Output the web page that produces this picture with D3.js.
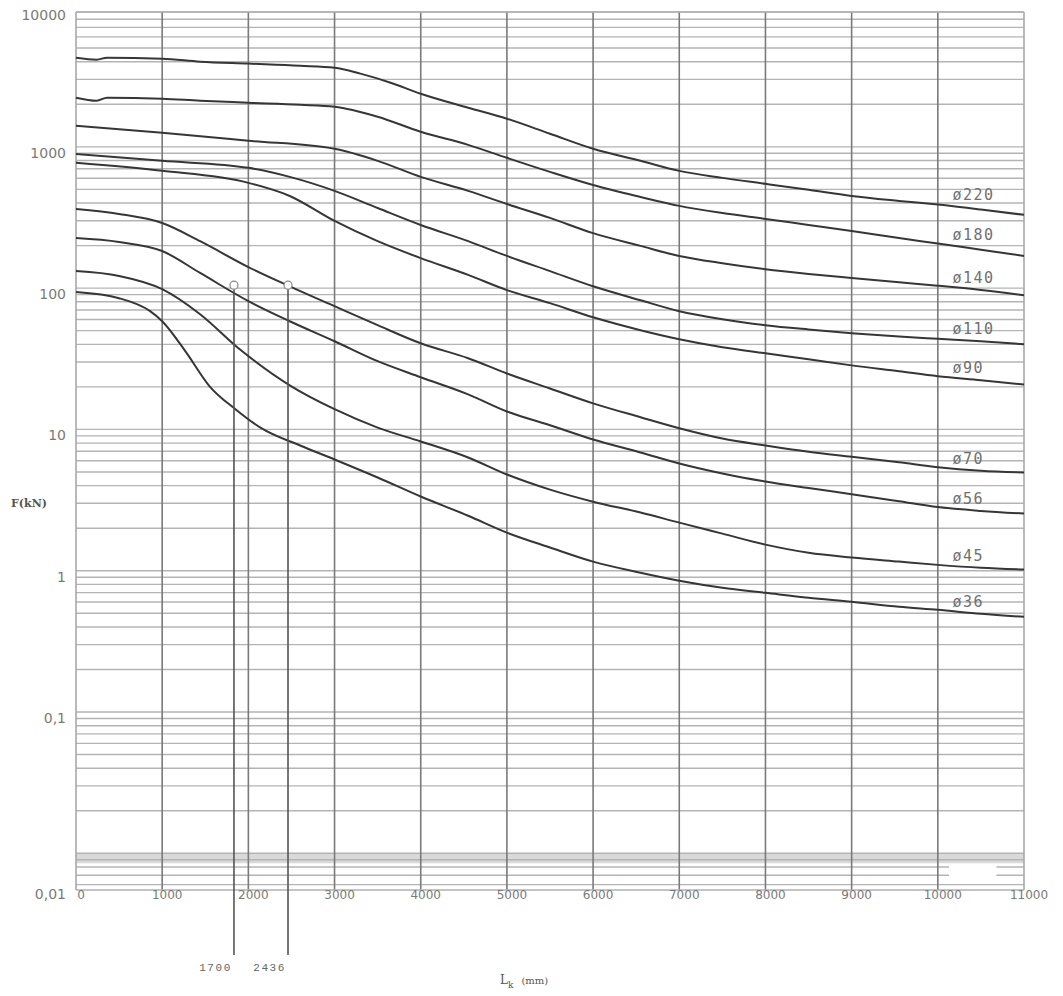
<!DOCTYPE html>
<html>
<head>
<meta charset="utf-8">
<script src="https://cdn.jsdelivr.net/npm/d3@7"></script>
<style>
  html, body { margin: 0; padding: 0; background: #fff; }
  svg { display: block; }
</style>
</head>
<body>
<script>
// ---------- data ----------
const xTicks = [0, 1000, 2000, 3000, 4000, 5000, 6000, 7000, 8000, 9000, 10000, 11000];
const yTickValues = [10000, 1000, 100, 10, 1, 0.1, 0.01];
const yTickLabels = ["10000", "1000", "100", "10", "1", "0,1", "0,01"];

const seriesNames = ["ø220", "ø180", "ø140", "ø110", "ø90", "ø70", "ø56", "ø45", "ø36"];

const s220 = [[0,4276],[240,4140],[360,4276],[1000,4207],[1440,4008],[2000,3882],[2600,3750],[3000,3631],[3300,3296],[3650,2844],[4000,2377],[4550,1892],[5000,1581],[5500,1237],[6000,968],[6550,796],[7000,676],[7500,603],[8000,547],[8500,496],[9000,449],[9550,414],[10000,390],[10500,360],[11000,330]];
const s180 = [[0,2228],[240,2120],[360,2228],[1000,2190],[1440,2120],[2000,2052],[2600,1986],[3000,1923],[3500,1634],[4000,1277],[4550,1033],[5000,836],[5500,665],[6000,537],[6550,442],[7000,382],[7500,340],[8000,309],[8500,280],[9000,254],[9550,226],[10000,207],[10500,187],[11000,169]];
const s140 = [[0,1409],[1000,1256],[2000,1104],[3000,968],[3500,796],[4000,613],[4550,488],[5000,394],[5500,314],[6000,245],[6550,199],[7000,169],[7500,150],[8000,136],[8500,126],[9000,118],[9550,110],[10000,104],[10500,97],[11000,89]];
const s110 = [[0,891],[1000,796],[2000,710],[2480,613],[3000,488],[3500,369],[4000,280],[4550,215],[5000,169],[5500,132],[6000,103],[6550,82],[7000,68.7],[7500,60.3],[8000,54.7],[8500,51.0],[9000,48.0],[9550,45.5],[10000,43.8],[10500,42.0],[11000,40.1]];
const s90 = [[0,770],[1000,676],[2000,556],[2480,449],[3000,299],[3500,215],[4000,163],[4550,124],[5000,96.8],[5500,78.3],[6000,62.2],[6550,50.4],[7000,43.5],[7500,38.2],[8000,34.6],[8500,31.4],[9000,28.4],[9550,25.8],[10000,23.8],[10500,22.3],[11000,20.8]];
const s70 = [[0,363],[500,335],[1000,289],[1440,215],[2000,141],[2480,103],[3000,74.5],[3500,54.7],[4000,40.7],[4550,31.9],[5000,24.9],[5500,19.5],[6000,15.3],[6550,12.2],[7000,10.2],[7500,8.63],[8000,7.70],[8500,6.95],[9000,6.40],[9550,5.85],[10000,5.40],[10500,5.10],[11000,4.96]];
const s56 = [[0,226],[500,212],[1000,183],[1440,128],[2000,80.9],[2480,58.3],[3000,42.1],[3500,30.4],[4000,23.4],[4550,17.7],[5000,13.4],[5500,10.7],[6000,8.49],[6550,6.87],[7000,5.74],[7500,4.88],[8000,4.28],[8500,3.85],[9000,3.48],[9550,3.10],[10000,2.82],[10500,2.65],[11000,2.54]];
const s45 = [[0,132],[500,122],[1000,98.4],[1440,65.4],[1900,36.9],[2480,20.5],[3000,13.9],[3500,10.3],[4000,8.22],[4550,6.33],[5000,4.80],[5500,3.75],[6000,3.08],[6550,2.58],[7000,2.19],[7500,1.83],[8000,1.53],[8500,1.34],[9000,1.24],[9550,1.16],[10000,1.10],[10500,1.05],[11000,1.02]];
const s36 = [[0,93.7],[500,84.9],[860,68.7],[1000,58.3],[1270,35.7],[1550,20.2],[1850,13.9],[2150,10.2],[2600,7.70],[3000,6.13],[3500,4.57],[4000,3.35],[4550,2.45],[5000,1.86],[5500,1.46],[6000,1.16],[6550,0.968],[7000,0.849],[7500,0.757],[8000,0.698],[8500,0.644],[9000,0.603],[9550,0.556],[10000,0.529],[10500,0.496],[11000,0.472]];
const seriesValues = [s220, s180, s140, s110, s90, s70, s56, s45, s36];

const markerX = [1833, 2460];
const markerLabels = ["1700", "2436"];
const markerF = 105;

const yLabel = "F(kN)";
const xLabelMain = "L";
const xLabelSub = "k";
const xLabelUnit = "(mm)";

// ---------- layout ----------
const W = 1063, H = 996;
const mLeft = 76, mRight = 1024, mTop = 12, mBottom = 890;

const svg = d3.select("body").append("svg").attr("width", W).attr("height", H);

const x = d3.scaleLinear().domain([0, 11000]).range([mLeft, mRight]);
const y = d3.scaleLog().domain([0.0055, 9000]).range([mBottom, mTop]);

// grey band near 0.01
svg.append("rect")
  .attr("x", mLeft).attr("width", mRight - mLeft)
  .attr("y", y(0.01)).attr("height", y(0.0085) - y(0.01))
  .attr("fill", "#d9d9d9");

// horizontal log grid
const hLines = [];
for (let e = -3; e <= 3; e++) {
  for (let m = 1; m <= 9; m++) {
    const v = m * Math.pow(10, e);
    if (v >= 0.0055 && v <= 9000) hLines.push(v);
  }
}
svg.append("g").selectAll("line").data(hLines).join("line")
  .attr("x1", mLeft).attr("x2", mRight)
  .attr("y1", d => y(d)).attr("y2", d => y(d))
  .attr("stroke", "#b4b4b4").attr("stroke-width", 1.4);

// white box bottom right
svg.append("rect")
  .attr("x", x(10130)).attr("width", x(10680) - x(10130))
  .attr("y", y(0.0085) + 1).attr("height", y(0.0066) - y(0.0085))
  .attr("fill", "#fff");

// vertical grid
svg.append("g").selectAll("line").data(xTicks).join("line")
  .attr("x1", d => x(d)).attr("x2", d => x(d))
  .attr("y1", mTop).attr("y2", mBottom)
  .attr("stroke", d => (d === 0 || d === 11000) ? "#a8a8a8" : "#7a7a7a")
  .attr("stroke-width", 1.6);

// frame top/bottom
svg.append("line").attr("x1", mLeft).attr("x2", mRight).attr("y1", mTop).attr("y2", mTop)
  .attr("stroke", "#b0b0b0").attr("stroke-width", 1.6);
svg.append("line").attr("x1", mLeft).attr("x2", mRight).attr("y1", mBottom).attr("y2", mBottom)
  .attr("stroke", "#b0b0b0").attr("stroke-width", 1.6);

// curves
const line = d3.line()
  .x(d => x(d[0]))
  .y(d => y(d[1]))
  .curve(d3.curveMonotoneX);

svg.append("g").selectAll("path").data(seriesValues).join("path")
  .attr("d", d => line(d))
  .attr("fill", "none")
  .attr("stroke", "#363636")
  .attr("stroke-width", 2);

// curve labels
function valueAt(series, xv) {
  for (let i = 1; i < series.length; i++) {
    if (series[i][0] >= xv) {
      const a = series[i - 1], b = series[i];
      const t = (xv - a[0]) / (b[0] - a[0]);
      return Math.pow(10, Math.log10(a[1]) + t * (Math.log10(b[1]) - Math.log10(a[1])));
    }
  }
  return series[series.length - 1][1];
}
svg.append("g").selectAll("text").data(seriesNames).join("text")
  .attr("x", x(10170))
  .attr("y", (d, i) => y(valueAt(seriesValues[i], 10500)) - (i < 2 ? 10 : 7))
  .attr("font-family", "'DejaVu Sans Mono', monospace")
  .attr("font-size", 15)
  .attr("letter-spacing", 1.5)
  .attr("fill", "#707070")
  .text(d => d);

// marker lines + circles
svg.append("g").selectAll("line").data(markerX).join("line")
  .attr("x1", d => x(d)).attr("x2", d => x(d))
  .attr("y1", y(markerF) + 4).attr("y2", 955)
  .attr("stroke", "#555").attr("stroke-width", 1.6);
svg.append("g").selectAll("circle").data(markerX).join("circle")
  .attr("cx", d => x(d)).attr("cy", y(markerF))
  .attr("r", 4)
  .attr("fill", "#fff").attr("stroke", "#888").attr("stroke-width", 1.2);
svg.append("g").selectAll("text").data(markerLabels).join("text")
  .attr("x", (d, i) => x(markerX[i]) - 2)
  .attr("y", 971)
  .attr("text-anchor", "end")
  .attr("font-family", "'Liberation Mono', monospace")
  .attr("font-size", 11)
  .attr("letter-spacing", 1.6)
  .attr("fill", "#666")
  .text(d => d);

// y tick labels
svg.append("g").selectAll("text").data(yTickValues).join("text")
  .attr("x", 66)
  .attr("y", (d, i) => {
    if (i === 0) return mTop + 8;
    if (i === yTickValues.length - 1) return mBottom + 9;
    return y(d) + 11;
  })
  .attr("text-anchor", "end")
  .attr("font-family", "'DejaVu Sans', sans-serif")
  .attr("font-size", 14)
  .attr("fill", "#7a7a7a")
  .text((d, i) => yTickLabels[i]);

// x tick labels
svg.append("g").selectAll("text").data(xTicks).join("text")
  .attr("x", d => x(d) + 5)
  .attr("y", 899)
  .attr("text-anchor", "middle")
  .attr("font-family", "'DejaVu Sans', sans-serif")
  .attr("font-size", 12)
  .attr("fill", "#7a7a7a")
  .text(d => d);

// y axis title
svg.append("text")
  .attr("x", 29).attr("y", 507)
  .attr("text-anchor", "middle")
  .attr("font-family", "'DejaVu Serif', serif")
  .attr("font-weight", "bold")
  .attr("font-size", 11)
  .attr("fill", "#555")
  .text(yLabel);

// x axis title
const xt = svg.append("text")
  .attr("x", 500).attr("y", 984)
  .attr("font-family", "'DejaVu Serif', serif")
  .attr("fill", "#555");
xt.append("tspan").attr("font-size", 12).text(xLabelMain);
xt.append("tspan").attr("font-size", 9).attr("dy", 4).text(xLabelSub);
xt.append("tspan").attr("font-size", 10).attr("dy", -4).attr("dx", 8).text(xLabelUnit);
</script>
</body>
</html>
